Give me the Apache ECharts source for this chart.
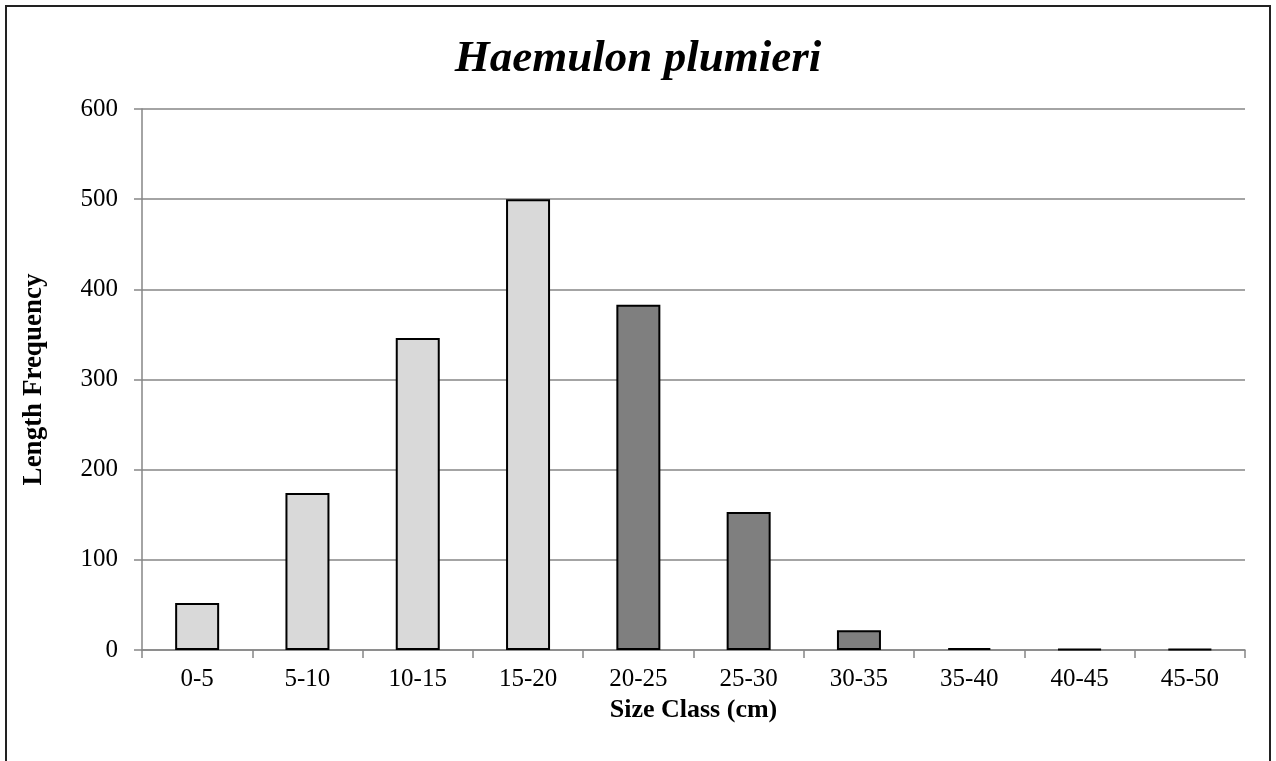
<!DOCTYPE html>
<html>
<head>
<meta charset="utf-8">
<script src="https://cdn.jsdelivr.net/npm/echarts@6/dist/echarts.min.js"></script>
<style>
  html, body { margin: 0; padding: 0; background: #fff; }
  #main { width: 1276px; height: 761px; }
</style>
</head>
<body>
<div id="main"></div>
<script>
  // size classes and frequencies
  const categories = ['0-5', '5-10', '10-15', '15-20', '20-25', '25-30', '30-35', '35-40', '40-45', '45-50'];
  const frequency = [52, 174, 346, 500, 383, 153, 22, 2, 1, 1];
  const yTicks = [0, 100, 200, 300, 400, 500, 600];
  // first classes drawn light, the rest dark
  const lightCount = 4;

  const font = '"Liberation Serif", "Times New Roman", serif';
  const chart = echarts.init(document.getElementById('main'));

  chart.setOption({
    animation: false,
    backgroundColor: '#fff',
    textStyle: { fontFamily: font },
    graphic: [{
      type: 'rect',
      shape: { x: 6, y: 6, width: 1264, height: 800 },
      style: { fill: 'none', stroke: '#222', lineWidth: 2 },
      silent: true
    }],
    title: {
      text: 'Haemulon plumieri',
      left: 'center',
      top: 32,
      textStyle: { fontFamily: font, fontStyle: 'italic', fontWeight: 'bold', fontSize: 45, color: '#000' }
    },
    grid: { left: 142, right: 31, top: 109, bottom: 111 },
    xAxis: {
      type: 'category',
      data: categories,
      name: 'Size Class (cm)',
      nameLocation: 'middle',
      nameGap: 47,
      nameTextStyle: { fontFamily: font, fontWeight: 'bold', fontSize: 26, color: '#000' },
      axisLine: { lineStyle: { color: '#868686', width: 1.5 } },
      axisTick: { show: true, alignWithLabel: false, length: 8, lineStyle: { color: '#868686', width: 1.5 } },
      axisLabel: { fontFamily: font, fontSize: 25, color: '#000', margin: 17 }
    },
    yAxis: {
      type: 'value',
      min: yTicks[0],
      max: yTicks[yTicks.length - 1],
      interval: 100,
      name: 'Length Frequency',
      nameLocation: 'middle',
      nameGap: 94,
      nameTextStyle: { fontFamily: font, fontWeight: 'bold', fontSize: 27, color: '#000' },
      axisLine: { show: true, lineStyle: { color: '#868686', width: 1.5 } },
      axisTick: { show: true, length: 8, lineStyle: { color: '#868686', width: 1.5 } },
      axisLabel: { fontFamily: font, fontSize: 25, color: '#000', margin: 24 },
      splitLine: { lineStyle: { color: '#868686', width: 1.5 } }
    },
    series: [{
      type: 'bar',
      data: frequency,
      barWidth: 44,
      itemStyle: {
        color: function (p) { return p.dataIndex < lightCount ? '#d9d9d9' : '#7f7f7f'; },
        borderColor: '#000',
        borderWidth: 2
      }
    }]
  });
</script>
</body>
</html>
